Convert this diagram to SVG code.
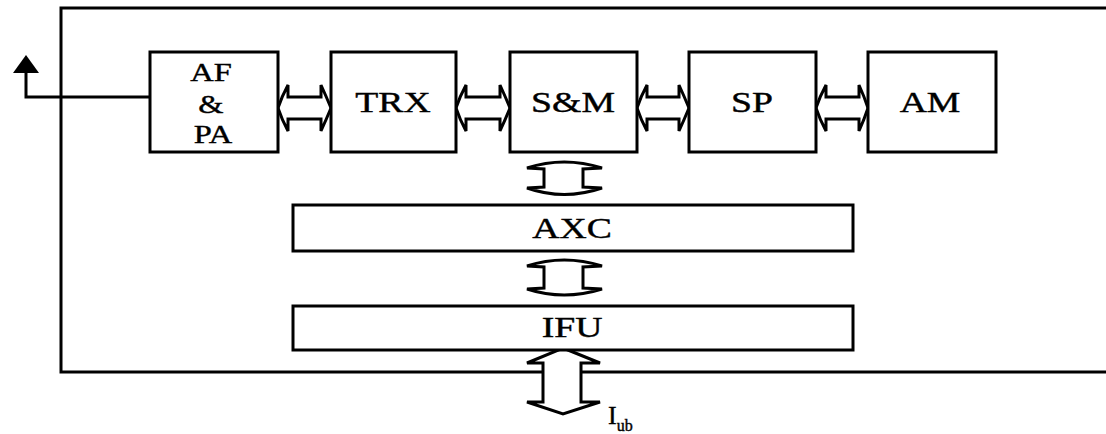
<svg xmlns="http://www.w3.org/2000/svg" width="1106" height="434" viewBox="0 0 1106 434">
<style>
.box{fill:#fff;stroke:#000;stroke-width:3}
.ln{fill:none;stroke:#000;stroke-width:3}
.arr{fill:#fff;stroke:#000;stroke-width:3;stroke-linejoin:miter}
text{font-family:"Liberation Serif","Times New Roman",serif;fill:#000;stroke:#000;stroke-width:0.4;text-anchor:middle}
.t{font-size:29px}
.s{font-size:26px}
</style>
<rect width="1106" height="434" fill="#fff"/>
<g id="frame">
<path class="ln" d="M1106,8 H61 V372 H1106"/>
</g>
<g id="connectors">
<path class="ln" d="M150,97 H26 V70"/>
<polygon points="26,55 13,73 39,73" fill="#000"/>
<path class="arr" d="M278,108 Q282,96 288,85 L288,97 L321,97 L321,85 Q326,96 331,108 Q326,120 321,131 L321,119 L288,119 L288,131 Q282,120 278,108 Z"/>
<path class="arr" d="M456,108 Q460,96 466,85 L466,97 L500,97 L500,85 Q505,96 510,108 Q505,120 500,131 L500,119 L466,119 L466,131 Q460,120 456,108 Z"/>
<path class="arr" d="M637,108 Q641,96 647,85 L647,97 L679,97 L679,85 Q684,96 689,108 Q684,120 679,131 L679,119 L647,119 L647,131 Q641,120 637,108 Z"/>
<path class="arr" d="M816,108 Q820,96 826,85 L826,97 L859,97 L859,85 Q864,96 868,108 Q864,120 859,131 L859,119 L826,119 L826,131 Q820,120 816,108 Z"/>
<path class="arr" d="M527,168 Q564,156 602,168 L583,169 L583,187 L602,188 Q564,201 527,188 L544,187 L544,169 Z"/>
<path class="arr" d="M527,266 Q564,254 602,266 L583,267 L583,288 L602,289 Q564,301 527,289 L544,288 L544,267 Z"/>
<path class="arr" d="M563,348 L600,363 L581,363 L581,402 L600,402 L563,414 L527,402 L543,402 L543,363 L527,363 Z"/>
</g>
<g id="afpa">
<rect class="box" x="150" y="52" width="128" height="100"/>
<text class="s" transform="translate(211,81) scale(1.25,1)">AF</text>
<text class="s" transform="translate(211,113) scale(1.25,1)">&amp;</text>
<text class="s" transform="translate(213,143) scale(1.25,1)">PA</text>
</g>
<g id="trx">
<rect class="box" x="331" y="52" width="125" height="100"/>
<text class="t" transform="translate(393,112) scale(1.3,1)">TRX</text>
</g>
<g id="sm">
<rect class="box" x="510" y="52" width="127" height="100"/>
<text class="t" transform="translate(573,112) scale(1.3,1)">S&amp;M</text>
</g>
<g id="sp">
<rect class="box" x="689" y="52" width="127" height="100"/>
<text class="t" transform="translate(752,112) scale(1.3,1)">SP</text>
</g>
<g id="am">
<rect class="box" x="868" y="52" width="128" height="100"/>
<text class="t" transform="translate(930,112) scale(1.3,1)">AM</text>
</g>
<g id="axc">
<rect class="box" x="293" y="205" width="560" height="46"/>
<text class="t" transform="translate(572,238) scale(1.3,1)">AXC</text>
</g>
<g id="ifu">
<rect class="box" x="293" y="306" width="560" height="44"/>
<text class="t" transform="translate(572,337) scale(1.3,1)">IFU</text>
</g>
<g id="iub">
<text x="608" y="424" style="text-anchor:start;font-size:26px">I<tspan dy="7" style="font-size:16px">ub</tspan></text>
</g>
</svg>
